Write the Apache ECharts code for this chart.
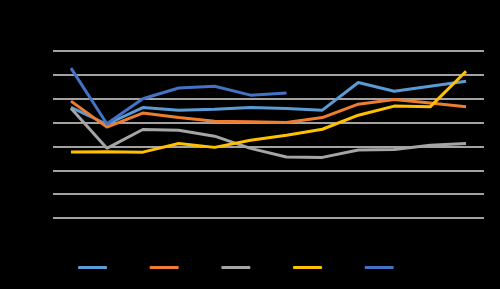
<!DOCTYPE html>
<html><head><meta charset="utf-8">
<script src="https://cdn.jsdelivr.net/npm/echarts@6/dist/echarts.min.js"></script>
<style>html,body{margin:0;padding:0;background:#000;}#c{width:500px;height:289px;}</style>
</head><body><div id="c"></div>
<script>
const categories = ['1','2','3','4','5','6','7','8','9','10','11','12'];
const seriesNames = ['Series1','Series2','Series3','Series4','Series5'];
const s1 = [4.64,3.93,4.63,4.52,4.56,4.63,4.59,4.52,5.68,5.31,5.52,5.73];
const s2 = [4.90,3.81,4.40,4.21,4.06,4.03,4.00,4.21,4.77,4.97,4.82,4.66];
const s3 = [4.60,2.92,3.71,3.68,3.43,2.92,2.56,2.54,2.85,2.87,3.05,3.12];
const s4 = [2.77,2.78,2.76,3.12,2.96,3.26,3.47,3.72,4.31,4.69,4.66,6.15];
const s5 = [6.28,3.95,5.00,5.45,5.52,5.15,5.24,null,null,null,null,null];
const yTicks = [0,1,2,3,4,5,6,7];
const colors = ['#5B9BD5','#ED7D31','#A5A5A5','#FFC000','#4472C4'];
const data = [s1,s2,s3,s4,s5];

const chart = echarts.init(document.getElementById('c'), null, {renderer:'canvas'});
chart.setOption({
  backgroundColor:'#000',
  animation:false,
  grid:{left:53,right:16,top:51,bottom:71},
  legend:{
    bottom:11, left:73, itemWidth:29, itemHeight:3, itemGap:12,
    icon:'roundRect',
    data: seriesNames.map((n,i)=>({name:n, itemStyle:{color:colors[i]}})),
    textStyle:{color:'#000', fontSize:11, width:28, overflow:'truncate'}
  },
  xAxis:{
    type:'category', data:categories, boundaryGap:true,
    axisLine:{show:false}, axisTick:{show:false},
    axisLabel:{color:'#000'}
  },
  yAxis:{
    type:'value', min:yTicks[0], max:yTicks[yTicks.length-1], interval:1,
    axisLabel:{color:'#000'},
    splitLine:{lineStyle:{color:'#d9d9d9', width:1.5}}
  },
  series: data.map((d,i)=>({
    name:seriesNames[i], type:'line', data:d, symbol:'none',
    lineStyle:{color:colors[i], width:3}, itemStyle:{color:colors[i]},
    connectNulls:false
  }))
});
</script></body></html>
